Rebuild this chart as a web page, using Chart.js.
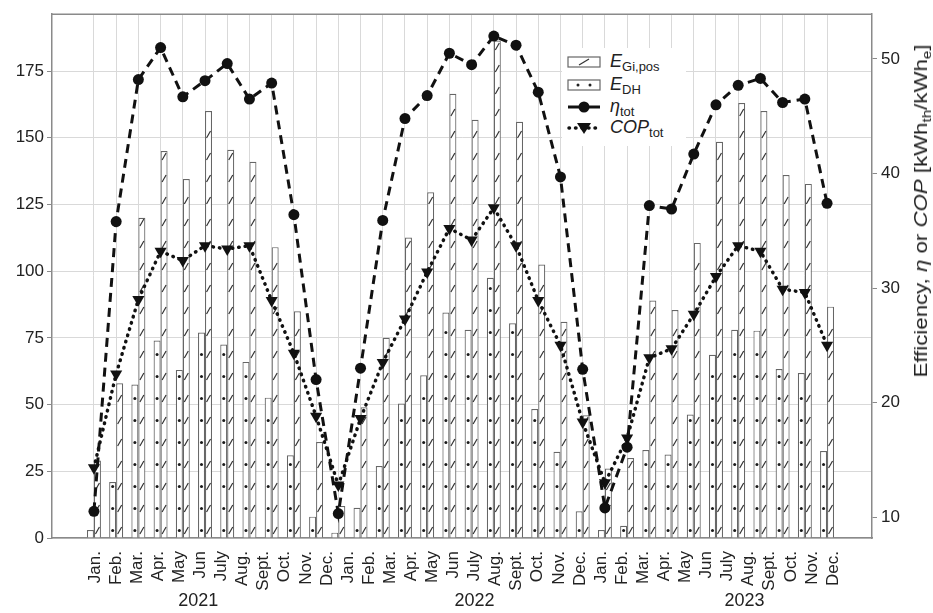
<!DOCTYPE html>
<html>
<head>
<meta charset="utf-8">
<script src="https://cdn.jsdelivr.net/npm/chart.js@4.4.1/dist/chart.umd.min.js"></script>
<style>
  body { margin: 0; background: #fff; }
  #wrap { position: relative; width: 933px; height: 613px; }
  #legend { position: absolute; left: 562px; top: 48px; width: 124px; height: 98px; background: #fff;
            font-family: 'Liberation Sans', Arial, sans-serif; font-size: 18px; color: #222; }
  #legend .row { position: absolute; left: 5px; height: 22px; display: flex; align-items: center; white-space: nowrap; }
  #legend svg { margin-right: 9px; }
  #legend sub, #ytitle sub { font-size: 13px; vertical-align: -4px; }
  #ytitle { position: absolute; left: 922px; top: 211px; transform: translate(-50%, -50%) rotate(-90deg) scaleX(1.17);
            white-space: nowrap; font-family: 'Liberation Sans', Arial, sans-serif; font-size: 19px; color: #222; }
</style>
</head>
<body>
<div id="wrap">
  <canvas id="myChart" width="933" height="613"></canvas>
  <div id="legend">
    <div class="row" style="top:3px"><svg width="34" height="12"><rect x="1" y="1" width="32" height="10" fill="#fff" stroke="#666" stroke-width="1.2"/><line x1="12" y1="9" x2="22" y2="3" stroke="#333" stroke-width="1.2"/></svg><span><i>E</i><sub>Gi,pos</sub></span></div>
    <div class="row" style="top:26px"><svg width="34" height="12"><rect x="1" y="1" width="32" height="10" fill="#fff" stroke="#666" stroke-width="1.2"/><circle cx="11" cy="6" r="1.5" fill="#222"/><circle cx="23" cy="6" r="1.5" fill="#222"/></svg><span><i>E</i><sub>DH</sub></span></div>
    <div class="row" style="top:48px"><svg width="34" height="14"><line x1="1" y1="7" x2="33" y2="7" stroke="#111" stroke-width="3"/><circle cx="17" cy="7" r="5.5" fill="#111"/></svg><span><i>η</i><sub>tot</sub></span></div>
    <div class="row" style="top:69px"><svg width="34" height="14"><line x1="2" y1="7" x2="33" y2="7" stroke="#111" stroke-width="3.5" stroke-dasharray="0.5 6" stroke-linecap="round"/><polygon points="10,2 24,2 17,13" fill="#111"/></svg><span><i>COP</i><sub>tot</sub></span></div>
  </div>
  <div id="ytitle">Efficiency, <i>η</i> or <i>COP</i> [kWh<sub>th</sub>/kWh<sub>e</sub>]</div>
</div>
<script>
// monthly values, Jan 2021 onwards (34 plotted positions)
const eGi = [29, 58, 120, 145, 134.5, 160, 145.5, 141, 109, 85, 36, 12,
             49, 75, 112.6, 129.6, 166.5, 156.7, 186.4, 156, 102.5, 81, 46, 26,
             30, 89, 85.4, 110.6, 148.5, 163, 160, 136, 132.7, 86.7];
const eDH = [3, 21, 57.5, 74, 63, 77, 72.5, 66, 52.6, 31, 8, 2,
             11.3, 27, 50.4, 61, 84.5, 78, 97.5, 80.5, 48.3, 32.3, 10, 3,
             4.6, 33, 31.3, 46.3, 68.7, 78, 77.7, 63.3, 61.8, 32.6];
const eta = [10.5, 35.8, 48.2, 51.0, 46.7, 48.1, 49.6, 46.5, 47.9, 36.4, 22.0, 10.3,
             23.0, 35.9, 44.8, 46.8, 50.5, 49.5, 52.0, 51.2, 47.1, 39.7, 22.9, 10.8,
             16.1, 37.2, 36.9, 41.7, 46.0, 47.7, 48.3, 46.2, 46.5, 37.4];
const cop = [14.3, 22.5, 29.0, 33.2, 32.4, 33.7, 33.4, 33.7, 28.9, 24.3, 18.8, 12.8,
             18.6, 23.5, 27.3, 31.4, 35.2, 34.2, 37.0, 33.7, 28.9, 25.0, 18.3, 13.0,
             16.9, 23.9, 24.7, 27.7, 31.0, 33.7, 33.2, 29.9, 29.6, 25.0];

const monthNames = ['Jan.', 'Feb.', 'Mar.', 'Apr.', 'May', 'Jun', 'July', 'Aug.', 'Sept.', 'Oct.', 'Nov.', 'Dec.'];
const years = ['2021', '2022', '2023'];
const leftTicks = [0, 25, 50, 75, 100, 125, 150, 175];
const rightTicks = [10, 20, 30, 40, 50];

const monthTicks = [];
years.forEach(() => monthNames.forEach(m => monthTicks.push(m)));
const pts = arr => arr.map((v, i) => ({ x: i, y: v }));

Chart.defaults.font.family = "'Liberation Sans', Arial, sans-serif";
Chart.defaults.color = '#222';

const tickFont = { size: 17 };
const axisGray = '#8a8a8a';
const gridGray = '#d9d9d9';

// hatch strokes and dots inside the bars
const barMarks = {
    id: 'barMarks',
    afterDatasetDraw(chart, args) {
        const ds = chart.data.datasets[args.index];
        if (!ds.mark) return;
        const ctx = chart.ctx;
        const area = chart.chartArea;
        ctx.save();
        ctx.beginPath();
        ctx.rect(area.left, area.top, area.right - area.left, area.bottom - area.top);
        ctx.clip();
        ctx.strokeStyle = '#333';
        ctx.fillStyle = '#1a1a1a';
        ctx.lineWidth = 1.2;
        args.meta.data.forEach(bar => {
            const p = bar.getProps(['x', 'y', 'base', 'width'], true);
            const l = p.x - p.width / 2, r = p.x + p.width / 2;
            for (let yy = p.base - 7; yy > p.y + 4; yy -= 22) {
                if (ds.mark === 'hatch') {
                    ctx.beginPath();
                    ctx.moveTo(l + 1.5, yy + 3.5);
                    ctx.lineTo(r - 1.5, yy - 3.5);
                    ctx.stroke();
                } else {
                    ctx.beginPath();
                    ctx.arc(p.x, yy, 1.5, 0, Math.PI * 2);
                    ctx.fill();
                }
            }
        });
        ctx.restore();
    }
};

// top line of the plot frame
const frame = {
    id: 'frame',
    beforeDatasetsDraw(chart) {
        const ctx = chart.ctx;
        const a = chart.chartArea;
        ctx.save();
        ctx.strokeStyle = axisGray;
        ctx.lineWidth = 1.5;
        ctx.beginPath();
        ctx.moveTo(a.left, a.top);
        ctx.lineTo(a.right, a.top);
        ctx.stroke();
        ctx.restore();
    }
};

const ctx = document.getElementById('myChart').getContext('2d');

const myChart = new Chart(ctx, {
    type: 'bar',
    data: {
        datasets: [{
            type: 'bar',
            label: 'E_Gi,pos',
            data: pts(eGi),
            mark: 'hatch',
            order: 4,
            backgroundColor: '#fff',
            borderColor: '#666',
            borderWidth: 1.2,
            categoryPercentage: 0.63,
            barPercentage: 1,
            xAxisID: 'x',
            yAxisID: 'y'
        }, {
            type: 'bar',
            label: 'E_DH',
            data: pts(eDH),
            mark: 'dot',
            order: 3,
            backgroundColor: '#fff',
            borderColor: '#666',
            borderWidth: 1.2,
            categoryPercentage: 0.63,
            barPercentage: 1,
            xAxisID: 'x',
            yAxisID: 'y'
        }, {
            type: 'line',
            label: 'eta_tot',
            data: pts(eta),
            order: 1,
            borderColor: '#111',
            borderWidth: 3,
            borderDash: [9, 6],
            pointStyle: 'circle',
            pointRadius: 5.5,
            pointBackgroundColor: '#111',
            pointBorderWidth: 0,
            fill: false,
            tension: 0,
            xAxisID: 'x',
            yAxisID: 'y1'
        }, {
            type: 'line',
            label: 'COP_tot',
            data: pts(cop),
            order: 2,
            borderColor: '#111',
            borderWidth: 3.5,
            borderDash: [0.5, 6],
            borderCapStyle: 'round',
            pointStyle: 'triangle',
            pointRotation: 180,
            pointRadius: 7,
            pointBackgroundColor: '#111',
            pointBorderWidth: 0,
            fill: false,
            tension: 0,
            xAxisID: 'x',
            yAxisID: 'y1'
        }]
    },
    options: {
        responsive: false,
        animation: false,
        layout: { padding: { top: 12, left: 0, right: 0, bottom: 0 } },
        plugins: {
            legend: { display: false },
            tooltip: { enabled: false }
        },
        scales: {
            x: {
                type: 'linear',
                position: 'bottom',
                weight: 0,
                min: -1.888,
                max: 35.023,
                offset: false,
                afterBuildTicks: s => { s.ticks = eta.map((v, i) => ({ value: i })); },
                ticks: { display: false },
                grid: { color: gridGray, drawTicks: false, offset: false },
                border: { color: axisGray, width: 1.5 },
                afterFit: s => { s.height = 0; }
            },
            xm: {
                type: 'linear',
                position: 'bottom',
                weight: 1,
                min: -2.04,
                max: 36.85,
                offset: false,
                afterBuildTicks: s => { s.ticks = monthTicks.map((m, i) => ({ value: i })); },
                ticks: {
                    autoSkip: false,
                    minRotation: 90,
                    maxRotation: 90,
                    padding: 5,
                    font: tickFont,
                    callback: v => monthTicks[v]
                },
                grid: { display: false, offset: false },
                border: { display: false },
                afterFit: s => { s.height = 52; }
            },
            xy: {
                type: 'linear',
                position: 'bottom',
                weight: 2,
                min: -2.04,
                max: 36.85,
                offset: false,
                afterBuildTicks: s => { s.ticks = [4.9, 18.0, 30.8].map(v => ({ value: v })); },
                ticks: {
                    autoSkip: false,
                    minRotation: 0,
                    maxRotation: 0,
                    padding: 0,
                    font: { size: 18 },
                    callback: (v, i) => years[i]
                },
                grid: { display: false, drawTicks: false, offset: false },
                border: { display: false },
                afterFit: s => { s.height = 23; }
            },
            y: {
                type: 'linear',
                position: 'left',
                min: 0,
                max: 196.3,
                afterBuildTicks: s => { s.ticks = leftTicks.map(v => ({ value: v })); },
                ticks: { font: tickFont, padding: 3 },
                grid: { color: gridGray, tickColor: axisGray, tickLength: 5 },
                border: { color: axisGray, width: 1.5 },
                afterFit: s => { s.width = 52; }
            },
            y1: {
                type: 'linear',
                position: 'right',
                min: 8.17,
                max: 53.91,
                afterBuildTicks: s => { s.ticks = rightTicks.map(v => ({ value: v })); },
                ticks: { font: tickFont, padding: 4 },
                grid: { drawOnChartArea: false, tickColor: axisGray, tickLength: 5 },
                border: { color: axisGray, width: 1.5 },
                afterFit: s => { s.width = 61; }
            }
        }
    },
    plugins: [barMarks, frame]
});
</script>
</body>
</html>
